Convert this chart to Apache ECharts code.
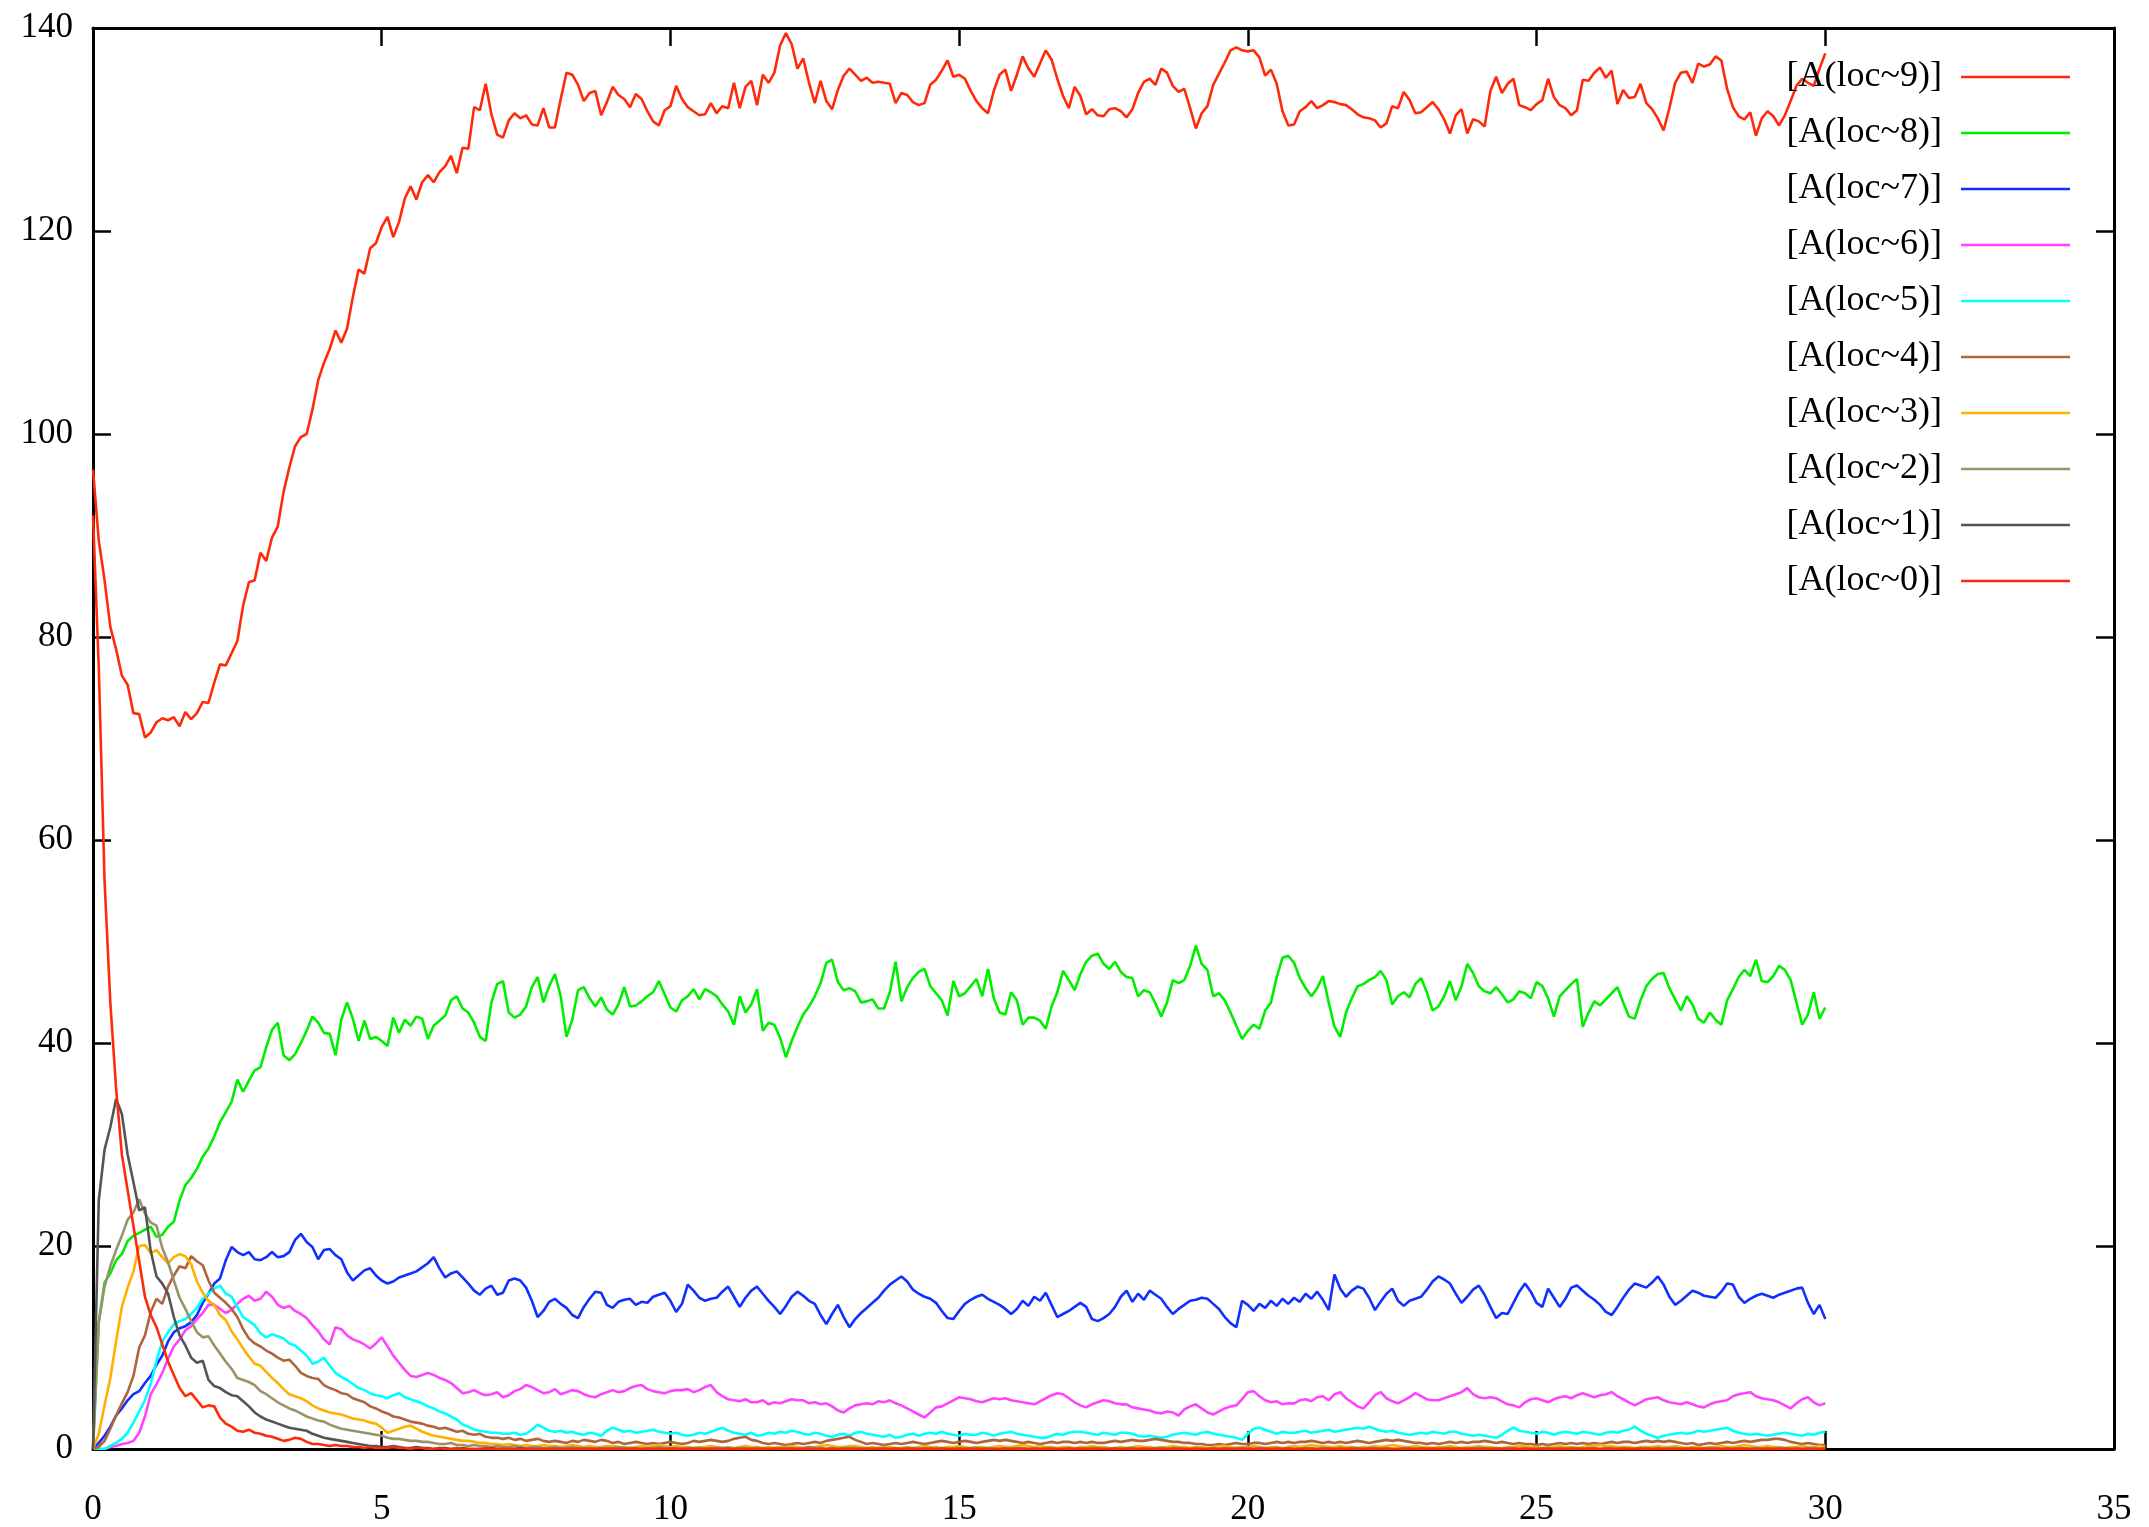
<!DOCTYPE html>
<html>
<head>
<meta charset="utf-8">
<title>A(loc~n) over time</title>
<script src="https://cdn.jsdelivr.net/npm/echarts@6/dist/echarts.min.js"></script>
<style>
  html, body { margin: 0; padding: 0; background: #ffffff; }
  #chart { width: 2149px; height: 1527px; }
</style>
</head>
<body>
<div id="chart"></div>
<script>
// Sample times: 0 .. 30 in steps of 0.1 (301 samples per trajectory)
const STEP = 0.1;
const SAMPLES = 301;

// Axis ticks
const xTicks = [0, 5, 10, 15, 20, 25, 30, 35];
const yTicks = [0, 20, 40, 60, 80, 100, 120, 140];

// Legend labels, in key order
const labels = ['[A(loc~9)]', '[A(loc~8)]', '[A(loc~7)]', '[A(loc~6)]', '[A(loc~5)]',
                '[A(loc~4)]', '[A(loc~3)]', '[A(loc~2)]', '[A(loc~1)]', '[A(loc~0)]'];

// Population of A at location 9
const loc9 = [
  96.5, 89.5, 85.6, 81.0, 78.8, 76.2, 75.3, 72.5, 72.4, 70.1,
  70.6, 71.6, 72.0, 71.8, 72.1, 71.2, 72.6, 71.9, 72.5, 73.6,
  73.5, 75.5, 77.3, 77.2, 78.4, 79.6, 83.1, 85.4, 85.6, 88.3,
  87.5, 89.8, 90.9, 94.3, 96.7, 98.8, 99.7, 100.0, 102.4, 105.3,
  107.0, 108.4, 110.2, 109.0, 110.4, 113.5, 116.2, 115.8, 118.3, 118.8,
  120.4, 121.4, 119.4, 120.9, 123.2, 124.4, 123.1, 124.8, 125.5, 124.8,
  125.8, 126.4, 127.4, 125.7, 128.2, 128.1, 132.2, 131.9, 134.5, 131.5,
  129.5, 129.2, 130.9, 131.6, 131.1, 131.4, 130.5, 130.4, 132.1, 130.2,
  130.2, 133.0, 135.6, 135.4, 134.4, 132.8, 133.6, 133.8, 131.4, 132.7,
  134.2, 133.4, 133.0, 132.2, 133.5, 133.0, 131.8, 130.8, 130.4, 131.9,
  132.3, 134.3, 133.0, 132.2, 131.8, 131.4, 131.5, 132.6, 131.6, 132.3,
  132.1, 134.6, 132.1, 134.2, 134.8, 132.4, 135.4, 134.6, 135.6, 138.3,
  139.5, 138.4, 136.0, 137.0, 134.6, 132.6, 134.8, 132.8, 132.0, 133.9,
  135.3, 136.0, 135.4, 134.8, 135.1, 134.6, 134.7, 134.6, 134.5, 132.6,
  133.6, 133.4, 132.7, 132.4, 132.6, 134.4, 134.9, 135.8, 136.8, 135.2,
  135.4, 135.0, 133.8, 132.8, 132.1, 131.6, 133.8, 135.4, 135.9, 133.8,
  135.4, 137.2, 136.0, 135.2, 136.5, 137.8, 136.9, 135.0, 133.3, 132.1,
  134.2, 133.3, 131.5, 132.0, 131.4, 131.3, 132.0, 132.1, 131.8, 131.2,
  132.0, 133.6, 134.7, 135.0, 134.4, 136.0, 135.6, 134.3, 133.7, 134.0,
  132.1, 130.1, 131.6, 132.3, 134.4, 135.5, 136.6, 137.8, 138.1, 137.8,
  137.7, 137.8, 137.1, 135.3, 135.9, 134.5, 131.8, 130.4, 130.5, 131.8,
  132.2, 132.8, 132.1, 132.4, 132.8, 132.7, 132.5, 132.4, 132.0, 131.5,
  131.2, 131.1, 130.9, 130.2, 130.6, 132.3, 132.1, 133.7, 132.9, 131.6,
  131.7, 132.2, 132.7, 132.0, 131.0, 129.6, 131.4, 132.0, 129.6, 131.0,
  130.8, 130.3, 133.8, 135.2, 133.6, 134.5, 135.0, 132.4, 132.2, 131.9,
  132.5, 132.9, 135.0, 133.2, 132.4, 132.1, 131.4, 131.9, 134.9, 134.8,
  135.6, 136.1, 135.1, 135.8, 132.5, 133.9, 133.1, 133.2, 134.5, 132.6,
  132.0, 131.1, 129.9, 132.1, 134.6, 135.6, 135.7, 134.6, 136.5, 136.2,
  136.4, 137.2, 136.8, 134.0, 132.2, 131.3, 131.0, 131.7, 129.4, 131.1,
  131.8, 131.3, 130.4, 131.4, 132.8, 134.3, 135.0, 134.6, 134.3, 136.0,
  137.5
];

// Population of A at location 8
const loc8 = [
  0, 12.5, 16.4, 17.3, 18.6, 19.2, 20.5, 21.0, 21.3, 21.6,
  21.9, 20.9, 21.1, 21.9, 22.4, 24.5, 26.0, 26.7, 27.6, 28.8,
  29.6, 30.8, 32.2, 33.2, 34.2, 36.4, 35.2, 36.3, 37.3, 37.6,
  39.6, 41.3, 42.0, 38.8, 38.3, 38.9, 40.0, 41.2, 42.6, 42.0,
  41.0, 40.9, 38.8, 42.3, 44.0, 42.4, 40.2, 42.2, 40.4, 40.6,
  40.2, 39.7, 42.5, 41.0, 42.3, 41.7, 42.6, 42.4, 40.4, 41.7,
  42.2, 42.7, 44.2, 44.6, 43.4, 43.0, 42.0, 40.6, 40.2, 44.0,
  45.8, 46.1, 43.0, 42.5, 42.8, 43.6, 45.5, 46.5, 44.0, 45.6,
  46.8, 44.6, 40.6, 42.3, 45.2, 45.5, 44.4, 43.6, 44.5, 43.3,
  42.8, 43.8, 45.5, 43.6, 43.7, 44.1, 44.6, 45.0, 46.1, 44.8,
  43.5, 43.1, 44.2, 44.6, 45.3, 44.3, 45.3, 45.0, 44.6, 43.8,
  43.1, 41.8, 44.6, 43.0, 43.8, 45.3, 41.2, 42.0, 41.8, 40.5,
  38.6, 40.2, 41.6, 42.8, 43.6, 44.6, 45.9, 47.9, 48.2, 46.0,
  45.2, 45.4, 45.1, 44.0, 44.1, 44.3, 43.4, 43.4, 45.0, 48.0,
  44.1, 45.5, 46.4, 47.0, 47.3, 45.6, 44.9, 44.2, 42.7, 46.1,
  44.6, 44.9, 45.6, 46.3, 44.6, 47.3, 44.4, 43.0, 42.8, 45.0,
  44.2, 41.8, 42.5, 42.5, 42.2, 41.4, 43.6, 45.0, 47.1, 46.2,
  45.2, 46.8, 48.0, 48.6, 48.8, 47.8, 47.3, 48.0, 47.0, 46.5,
  46.4, 44.6, 45.2, 45.0, 43.9, 42.6, 44.0, 46.2, 45.9, 46.2,
  47.6, 49.6, 47.8, 47.2, 44.6, 44.9, 44.2, 43.0, 41.7, 40.4,
  41.2, 41.8, 41.4, 43.2, 44.0, 46.5, 48.4, 48.6, 47.9, 46.4,
  45.4, 44.6, 45.4, 46.6, 44.0, 41.6, 40.6, 43.0, 44.4, 45.6,
  45.8, 46.2, 46.5, 47.1, 46.2, 43.8, 44.6, 45.0, 44.5, 45.8,
  46.4, 45.0, 43.2, 43.6, 44.6, 46.1, 44.2, 45.6, 47.8, 46.9,
  45.6, 45.1, 44.9, 45.5, 44.8, 44.0, 44.3, 45.1, 44.9, 44.4,
  46.0, 45.6, 44.4, 42.6, 44.6, 45.2, 45.8, 46.3, 41.6, 43.0,
  44.1, 43.7, 44.3, 44.9, 45.5, 44.0, 42.6, 42.4, 44.2, 45.6,
  46.3, 46.8, 46.9, 45.4, 44.3, 43.2, 44.6, 43.8, 42.4, 42.0,
  43.0, 42.3, 41.8, 44.2, 45.3, 46.5, 47.2, 46.6, 48.2, 46.1,
  46.0, 46.6, 47.6, 47.2, 46.2, 44.0, 41.8, 42.8, 45.0, 42.4,
  43.5
];

// Population of A at location 7
const loc7 = [
  0, 0.6, 1.3, 2.2, 3.3, 4.0, 4.8, 5.4, 5.7, 6.5,
  7.2, 8.3, 9.2, 10.6, 11.5, 11.9, 12.1, 12.5, 13.2, 14.4,
  15.3, 16.3, 16.8, 18.6, 19.9, 19.4, 19.1, 19.4, 18.7, 18.6,
  18.9, 19.4, 18.9, 19.0, 19.4, 20.6, 21.2, 20.4, 19.9, 18.7,
  19.6, 19.7, 19.1, 18.7, 17.4, 16.6, 17.1, 17.6, 17.8, 17.1,
  16.6, 16.3, 16.5, 16.9, 17.1, 17.3, 17.5, 17.9, 18.3, 18.9,
  17.8, 16.9, 17.3, 17.5, 16.9, 16.3, 15.6, 15.2, 15.8, 16.1,
  15.2, 15.4, 16.6, 16.8, 16.6, 15.9, 14.6, 13.0, 13.6, 14.5,
  14.8, 14.3, 13.9, 13.2, 12.9, 14.0, 14.8, 15.5, 15.4, 14.2,
  13.9, 14.5, 14.7, 14.8, 14.2, 14.5, 14.4, 15.0, 15.2, 15.4,
  14.6, 13.5, 14.3, 16.2, 15.6, 14.9, 14.6, 14.8, 14.9, 15.5,
  16.0, 15.0, 14.0, 14.9, 15.6, 16.0, 15.3, 14.6, 14.0, 13.3,
  14.1, 15.0, 15.5, 15.1, 14.6, 14.3, 13.2, 12.3, 13.3, 14.2,
  13.0, 12.0, 12.8, 13.4, 13.9, 14.4, 14.9, 15.6, 16.2, 16.6,
  17.0, 16.5, 15.7, 15.3, 15.0, 14.8, 14.4, 13.6, 12.9, 12.8,
  13.6, 14.3, 14.7, 15.0, 15.2, 14.8, 14.5, 14.2, 13.8, 13.3,
  13.8, 14.6, 14.1, 15.0, 14.6, 15.4, 14.2, 13.0, 13.3, 13.6,
  14.0, 14.4, 14.0, 12.8, 12.6, 12.9, 13.3, 14.0, 15.0, 15.6,
  14.5, 15.3, 14.7, 15.6, 15.2, 14.8, 14.0, 13.3, 13.8, 14.2,
  14.6, 14.7, 14.9, 14.8, 14.3, 13.8, 13.0, 12.4, 12.0, 14.6,
  14.2, 13.6, 14.3, 13.9, 14.6, 14.1, 14.8, 14.3, 14.9, 14.5,
  15.3, 14.8, 15.5, 14.7, 13.7, 17.2, 15.8, 15.0, 15.6, 16.0,
  15.8, 14.9, 13.7, 14.5, 15.3, 15.8, 14.6, 14.1, 14.6, 14.8,
  15.0, 15.7, 16.5, 17.0, 16.7, 16.3, 15.3, 14.4, 15.0, 15.7,
  16.1, 15.2, 14.0, 12.9, 13.4, 13.3, 14.4, 15.5, 16.3, 15.5,
  14.4, 14.0, 15.8, 14.9, 14.0, 14.8, 15.9, 16.1, 15.6, 15.1,
  14.7, 14.2, 13.5, 13.2, 14.0, 14.9, 15.7, 16.3, 16.1, 15.9,
  16.4, 17.0, 16.2, 15.0, 14.2, 14.6, 15.1, 15.6, 15.4, 15.1,
  15.0, 14.9, 15.5, 16.3, 16.2, 15.0, 14.4, 14.8, 15.1, 15.3,
  15.1, 14.9, 15.2, 15.4, 15.6, 15.8, 15.9, 14.4, 13.3, 14.2,
  12.8
];

// Population of A at location 6
const loc6 = [
  0, 0, 0, 0.2, 0.3, 0.5, 0.6, 0.8, 1.6, 3.2,
  5.4, 6.4, 7.5, 8.9, 10.1, 10.8, 11.7, 12.1, 12.8, 13.4,
  14.2, 14.2, 13.8, 13.4, 13.7, 14.3, 14.8, 15.1, 14.6, 14.8,
  15.5, 15.0, 14.2, 13.9, 14.1, 13.6, 13.3, 12.9, 12.2, 11.6,
  10.8, 10.3, 12.0, 11.8, 11.2, 10.8, 10.6, 10.3, 9.9, 10.4,
  11.0, 10.1, 9.2, 8.5, 7.8, 7.2, 7.1, 7.3, 7.5, 7.3,
  7.0, 6.8, 6.5, 6.0, 5.5, 5.6, 5.8, 5.5, 5.3, 5.4,
  5.6, 5.1, 5.3, 5.7, 5.9, 6.3, 6.1, 5.8, 5.5, 5.6,
  5.9, 5.4, 5.6, 5.8, 5.7, 5.4, 5.2, 5.1, 5.4, 5.6,
  5.8, 5.6, 5.7, 6.0, 6.2, 6.3, 5.9, 5.7, 5.6, 5.5,
  5.7, 5.8, 5.8, 5.9, 5.6, 5.8, 6.1, 6.3, 5.6, 5.2,
  4.9, 4.8, 4.7, 4.9, 4.6, 4.6, 4.8, 4.4, 4.6, 4.5,
  4.7, 4.9, 4.8, 4.8, 4.5, 4.6, 4.4, 4.5, 4.2, 3.8,
  3.6, 4.0, 4.3, 4.4, 4.5, 4.4, 4.7, 4.6, 4.8, 4.5,
  4.3, 4.0, 3.7, 3.4, 3.1, 3.6, 4.1, 4.2, 4.5, 4.8,
  5.1, 5.0, 4.9, 4.7, 4.6, 4.8, 5.0, 4.9, 5.0, 4.8,
  4.7, 4.6, 4.5, 4.4, 4.7, 5.0, 5.3, 5.5, 5.4, 5.0,
  4.6, 4.3, 4.1, 4.4, 4.6, 4.8, 4.7, 4.5, 4.4, 4.4,
  4.1, 4.0, 3.9, 3.8, 3.6, 3.5, 3.7, 3.6, 3.3, 3.9,
  4.2, 4.4, 4.0, 3.6, 3.4, 3.7, 4.0, 4.2, 4.3, 4.9,
  5.6, 5.7, 5.2, 4.8, 4.6, 4.7, 4.4, 4.5, 4.5, 4.8,
  4.9, 4.7, 5.1, 5.2, 4.8, 5.4, 5.6, 5.0, 4.6, 4.2,
  4.0, 4.6, 5.3, 5.6, 5.0, 4.7, 4.5, 4.8, 5.1, 5.5,
  5.2, 4.9, 4.8, 4.8, 5.0, 5.2, 5.4, 5.6, 6.0, 5.4,
  5.1, 5.0, 5.1, 5.0, 4.7, 4.4, 4.3, 4.1, 4.6, 4.9,
  5.0, 4.8, 4.6, 4.9, 5.1, 5.2, 5.0, 5.3, 5.5, 5.3,
  5.1, 5.3, 5.4, 5.6, 5.2, 4.9, 4.6, 4.3, 4.6, 4.9,
  5.0, 5.1, 4.8, 4.6, 4.5, 4.4, 4.6, 4.4, 4.2, 4.1,
  4.4, 4.6, 4.7, 4.8, 5.2, 5.4, 5.5, 5.6, 5.2, 5.0,
  4.9, 4.8, 4.6, 4.3, 4.0, 4.5, 4.9, 5.1, 4.6, 4.3,
  4.5
];

// Population of A at location 5
const loc5 = [
  0, 0, 0, 0.3, 0.6, 1.0, 1.6, 2.6, 3.7, 4.8,
  6.4, 8.7, 10.6, 11.5, 12.3, 12.6, 12.8, 13.3, 13.9, 14.8,
  15.3, 15.8, 16.1, 15.3, 15.0, 14.0, 13.0, 12.6, 12.2, 11.4,
  11.0, 11.3, 11.1, 10.9, 10.4, 10.2, 9.7, 9.2, 8.4, 8.6,
  9.0, 8.2, 7.5, 7.1, 6.8, 6.4, 6.0, 5.8, 5.5, 5.3,
  5.2, 5.0, 5.3, 5.5, 5.1, 4.9, 4.7, 4.5, 4.2, 4.0,
  3.7, 3.5, 3.2, 2.9, 2.4, 2.2, 1.9, 1.8, 1.7, 1.6,
  1.6, 1.5, 1.5, 1.6, 1.4, 1.5, 1.9, 2.4, 2.1, 1.8,
  1.7, 1.8, 1.6, 1.7, 1.5, 1.4, 1.6, 1.5, 1.3, 1.8,
  2.1, 1.9, 1.7, 1.8, 1.6, 1.7, 1.8, 1.9, 1.7, 1.6,
  1.5, 1.6, 1.4, 1.3, 1.4, 1.6, 1.5, 1.7, 1.9, 2.1,
  1.8, 1.6, 1.5, 1.4, 1.6, 1.3, 1.4, 1.6, 1.5, 1.7,
  1.6, 1.8, 1.7, 1.5, 1.4, 1.6, 1.5, 1.3, 1.2, 1.4,
  1.5, 1.3, 1.6, 1.7, 1.5, 1.4, 1.3, 1.2, 1.4, 1.1,
  1.2, 1.4, 1.5, 1.3, 1.5, 1.6, 1.5, 1.7, 1.5, 1.4,
  1.3, 1.5, 1.4, 1.4, 1.6, 1.5, 1.3, 1.5, 1.6, 1.7,
  1.5, 1.4, 1.3, 1.2, 1.1, 1.1, 1.3, 1.5, 1.4, 1.6,
  1.7, 1.7, 1.6, 1.5, 1.4, 1.6, 1.5, 1.4, 1.6, 1.6,
  1.5, 1.3, 1.2, 1.3, 1.2, 1.1, 1.2, 1.4, 1.5, 1.6,
  1.5, 1.4, 1.6, 1.7, 1.5, 1.4, 1.3, 1.2, 1.1, 0.9,
  1.5, 2.0, 2.1, 1.9, 1.7, 1.5, 1.7, 1.6, 1.6, 1.7,
  1.8, 1.6, 1.7, 1.8, 1.9, 1.7, 1.8, 1.9, 2.0, 2.1,
  2.0, 2.2, 2.0, 1.8, 1.7, 1.8, 1.6, 1.5, 1.4, 1.5,
  1.6, 1.5, 1.7, 1.6, 1.5, 1.7, 1.7, 1.5, 1.4, 1.3,
  1.4, 1.3, 1.2, 1.1, 1.4, 1.8, 2.1, 1.8, 1.7, 1.6,
  1.5, 1.7, 1.6, 1.4, 1.6, 1.7, 1.6, 1.5, 1.7, 1.6,
  1.5, 1.4, 1.6, 1.7, 1.6, 1.8, 1.9, 2.2, 1.8, 1.5,
  1.3, 1.1, 1.3, 1.4, 1.5, 1.6, 1.5, 1.6, 1.8, 1.7,
  1.8, 1.9, 2.0, 2.1, 1.8, 1.6, 1.5, 1.4, 1.5, 1.4,
  1.3, 1.4, 1.5, 1.6, 1.5, 1.4, 1.3, 1.5, 1.4, 1.6,
  1.7
];

// Population of A at location 4
const loc4 = [
  0, 0.2, 0.8, 2.0, 3.3, 4.5, 5.6, 7.2, 10.0, 11.2,
  13.5, 14.8, 14.3, 16.0, 17.1, 18.0, 17.8, 19.0, 18.5, 18.1,
  16.6, 15.4, 14.9, 14.4, 13.8, 13.0, 11.8, 10.9, 10.4, 10.1,
  9.7, 9.4, 9.0, 8.7, 8.8, 8.2, 7.5, 7.2, 7.0, 6.9,
  6.3, 6.0, 5.8, 5.5, 5.4, 5.0, 4.8, 4.6, 4.2, 4.0,
  3.7, 3.5, 3.2, 3.1, 2.9, 2.7, 2.6, 2.5, 2.3, 2.2,
  2.0, 2.1, 1.9, 1.7, 1.8, 1.5, 1.4, 1.5, 1.2, 1.1,
  1.1, 1.0, 1.1, 0.9, 1.0, 0.8, 0.9, 1.0, 0.8, 0.7,
  0.8, 0.7, 0.6, 0.8, 0.7, 0.9, 0.8, 0.7, 0.9, 0.8,
  0.6, 0.7, 0.5, 0.6, 0.7, 0.6, 0.5, 0.6, 0.5, 0.6,
  0.7, 0.6, 0.5, 0.6, 0.8, 0.7, 0.8, 0.9, 0.8, 0.7,
  0.8, 1.0, 1.1, 1.2, 0.9, 0.8, 0.6, 0.5, 0.6, 0.5,
  0.4, 0.5, 0.6, 0.5, 0.6, 0.7, 0.6, 0.8, 0.9, 1.0,
  1.1, 1.2, 0.9, 0.7, 0.5, 0.6, 0.5, 0.4, 0.5, 0.6,
  0.5, 0.6, 0.7, 0.6, 0.5, 0.6, 0.7, 0.8, 0.7, 0.6,
  0.7, 0.8, 0.7, 0.6, 0.7, 0.8, 0.9, 0.8, 0.9, 0.8,
  0.7, 0.6, 0.7, 0.6, 0.5, 0.6, 0.7, 0.6, 0.7, 0.7,
  0.6, 0.7, 0.6, 0.7, 0.6, 0.6, 0.7, 0.8, 0.7, 0.8,
  0.9, 0.8, 0.8, 0.9, 1.0, 0.9, 0.8, 0.7, 0.7, 0.6,
  0.6, 0.5, 0.5, 0.4, 0.4, 0.5, 0.4, 0.5, 0.6, 0.5,
  0.5, 0.6, 0.6, 0.5, 0.6, 0.7, 0.6, 0.7, 0.6, 0.7,
  0.7, 0.8, 0.7, 0.6, 0.7, 0.6, 0.7, 0.6, 0.7, 0.8,
  0.7, 0.6, 0.7, 0.8, 0.9, 0.8, 0.9, 0.8, 0.7, 0.6,
  0.6, 0.5, 0.6, 0.5, 0.6, 0.7, 0.6, 0.7, 0.6, 0.7,
  0.7, 0.8, 0.7, 0.6, 0.7, 0.6, 0.5, 0.6, 0.5, 0.5,
  0.4, 0.5, 0.4, 0.5, 0.6, 0.5, 0.6, 0.5, 0.6, 0.5,
  0.6, 0.5, 0.6, 0.7, 0.6, 0.7, 0.7, 0.6, 0.7, 0.8,
  0.7, 0.8, 0.7, 0.8, 0.7, 0.6, 0.5, 0.6, 0.4, 0.5,
  0.6, 0.5, 0.6, 0.7, 0.6, 0.7, 0.8, 0.7, 0.8, 0.9,
  0.9, 1.0, 1.0, 0.9, 0.7, 0.6, 0.5, 0.6, 0.5, 0.4,
  0.4
];

// Population of A at location 3
const loc3 = [
  0, 1.5, 4.3, 7.0, 10.6, 14.0, 15.9, 17.5, 20.0, 20.1,
  19.3, 19.6, 18.9, 18.3, 18.9, 19.2, 19.0, 18.2, 16.5, 15.4,
  14.6, 14.2, 13.2, 12.7, 11.6, 10.8, 9.9, 9.1, 8.4, 8.2,
  7.6, 7.0, 6.5, 5.9, 5.4, 5.2, 5.0, 4.7, 4.3, 4.0,
  3.8, 3.6, 3.5, 3.4, 3.2, 3.0, 2.9, 2.8, 2.6, 2.5,
  2.1, 1.6, 1.8, 2.0, 2.2, 2.3, 2.0, 1.7, 1.5, 1.3,
  1.2, 1.1, 1.0, 0.9, 0.8, 0.8, 0.7, 0.6, 0.6, 0.5,
  0.5, 0.4, 0.5, 0.4, 0.3, 0.4, 0.3, 0.3, 0.4, 0.3,
  0.3, 0.2, 0.3, 0.4, 0.3, 0.2, 0.3, 0.2, 0.2, 0.3,
  0.3, 0.2, 0.2, 0.1, 0.2, 0.3, 0.2, 0.3, 0.4, 0.3,
  0.2, 0.3, 0.2, 0.2, 0.1, 0.2, 0.2, 0.3, 0.2, 0.1,
  0.2, 0.1, 0.2, 0.3, 0.2, 0.2, 0.1, 0.2, 0.1, 0.2,
  0.2, 0.3, 0.2, 0.1, 0.2, 0.2, 0.3, 0.4, 0.3, 0.2,
  0.2, 0.3, 0.3, 0.2, 0.1, 0.2, 0.1, 0.2, 0.2, 0.1,
  0.1, 0.2, 0.1, 0.2, 0.3, 0.2, 0.2, 0.1, 0.2, 0.2,
  0.3, 0.2, 0.1, 0.2, 0.2, 0.1, 0.2, 0.3, 0.2, 0.2,
  0.3, 0.4, 0.3, 0.2, 0.3, 0.2, 0.2, 0.1, 0.2, 0.2,
  0.1, 0.2, 0.2, 0.3, 0.2, 0.2, 0.1, 0.1, 0.2, 0.1,
  0.2, 0.3, 0.2, 0.2, 0.1, 0.2, 0.2, 0.3, 0.2, 0.2,
  0.1, 0.2, 0.2, 0.1, 0.2, 0.3, 0.3, 0.2, 0.1, 0.2,
  0.2, 0.3, 0.2, 0.1, 0.2, 0.2, 0.1, 0.2, 0.3, 0.2,
  0.3, 0.4, 0.3, 0.3, 0.2, 0.2, 0.3, 0.2, 0.2, 0.1,
  0.2, 0.2, 0.3, 0.2, 0.3, 0.4, 0.3, 0.2, 0.2, 0.3,
  0.2, 0.2, 0.1, 0.2, 0.2, 0.3, 0.2, 0.1, 0.2, 0.2,
  0.3, 0.2, 0.2, 0.1, 0.1, 0.2, 0.2, 0.3, 0.3, 0.2,
  0.2, 0.1, 0.2, 0.2, 0.3, 0.2, 0.2, 0.1, 0.2, 0.3,
  0.3, 0.4, 0.3, 0.3, 0.2, 0.2, 0.2, 0.1, 0.2, 0.2,
  0.2, 0.3, 0.2, 0.2, 0.3, 0.2, 0.1, 0.2, 0.2, 0.1,
  0.2, 0.2, 0.3, 0.2, 0.2, 0.3, 0.4, 0.3, 0.2, 0.2,
  0.3, 0.2, 0.2, 0.1, 0.2, 0.2, 0.3, 0.2, 0.2, 0.3,
  0.2
];

// Population of A at location 2
const loc2 = [
  0, 12.5, 16.0, 18.0, 19.6, 21.0, 22.6, 23.3, 24.6, 23.2,
  22.3, 22.0, 19.8, 18.4, 16.6, 14.9, 13.8, 12.6, 11.5, 11.0,
  11.1, 10.2, 9.4, 8.6, 7.9, 7.0, 6.8, 6.6, 6.3, 5.7,
  5.4, 5.0, 4.6, 4.3, 4.0, 3.8, 3.5, 3.2, 3.0, 2.8,
  2.7, 2.4, 2.2, 2.0, 1.9, 1.8, 1.7, 1.6, 1.5, 1.4,
  1.3, 1.1, 1.0, 1.0, 0.9, 0.8, 0.8, 0.7, 0.7, 0.6,
  0.5, 0.5, 0.6, 0.4, 0.4, 0.3, 0.4, 0.3, 0.3, 0.2,
  0.3, 0.2, 0.2, 0.3, 0.2, 0.1, 0.2, 0.2, 0.1, 0.1,
  0.2, 0.1, 0.1, 0.2, 0.1, 0.1, 0.1, 0, 0.1, 0.1,
  0.1, 0.2, 0.1, 0.1, 0.1, 0, 0.1, 0.1, 0.2, 0.1,
  0.1, 0.1, 0, 0.1, 0.1, 0.1, 0, 0.1, 0.1, 0.1,
  0.1, 0, 0.1, 0.1, 0, 0.1, 0.1, 0, 0.1, 0.1,
  0.1, 0.1, 0, 0.1, 0.2, 0.1, 0.1, 0, 0.1, 0,
  0.1, 0.1, 0.1, 0, 0.1, 0, 0.1, 0.1, 0, 0.1,
  0, 0.1, 0.1, 0, 0.1, 0.1, 0, 0.1, 0, 0,
  0.1, 0, 0.1, 0.1, 0, 0.1, 0, 0, 0.1, 0,
  0.1, 0.1, 0, 0.1, 0, 0.1, 0.1, 0, 0, 0.1,
  0, 0.1, 0, 0.1, 0.1, 0, 0, 0.1, 0, 0.1,
  0.1, 0, 0.1, 0, 0.1, 0.1, 0, 0.1, 0.1, 0,
  0, 0.1, 0, 0, 0.1, 0, 0.1, 0, 0.1, 0.1,
  0.1, 0, 0.1, 0.1, 0, 0.1, 0, 0.1, 0, 0,
  0.1, 0.1, 0, 0.1, 0.1, 0, 0.1, 0, 0.1, 0.1,
  0, 0.1, 0.1, 0, 0.1, 0, 0, 0.1, 0.1, 0,
  0.1, 0, 0.1, 0, 0.1, 0.1, 0, 0.1, 0, 0.1,
  0.1, 0.1, 0, 0.1, 0, 0.1, 0.1, 0, 0.1, 0,
  0, 0.1, 0.1, 0, 0.1, 0, 0.1, 0.1, 0, 0.1,
  0.1, 0, 0.1, 0.1, 0, 0.1, 0, 0, 0.1, 0.1,
  0, 0.1, 0, 0.1, 0.1, 0, 0.1, 0.1, 0, 0.1,
  0.1, 0.1, 0, 0.1, 0, 0.1, 0.1, 0, 0.1, 0,
  0.1, 0, 0.1, 0.1, 0, 0.1, 0, 0.1, 0.1, 0,
  0.1
];

// Population of A at location 1
const loc1 = [
  0, 24.5, 29.5, 31.7, 34.5, 33.0, 29.0, 26.3, 23.5, 23.8,
  19.5, 17.0, 16.3, 15.3, 13.0, 11.2, 10.2, 9.0, 8.5, 8.7,
  6.8, 6.2, 6.0, 5.6, 5.3, 5.2, 4.7, 4.2, 3.6, 3.2,
  2.9, 2.7, 2.5, 2.3, 2.1, 2.0, 1.9, 1.8, 1.5, 1.3,
  1.1, 1.0, 0.9, 0.8, 0.7, 0.6, 0.5, 0.4, 0.3, 0.3,
  0.2, 0.2, 0.3, 0.2, 0.1, 0.1, 0.2, 0.1, 0.1, 0,
  0.1, 0.1, 0, 0, 0.1, 0, 0, 0, 0, 0.1,
  0, 0, 0, 0, 0.1, 0, 0, 0, 0, 0,
  0, 0, 0, 0, 0, 0, 0, 0, 0, 0,
  0, 0, 0, 0, 0, 0, 0, 0, 0, 0,
  0, 0, 0, 0, 0, 0, 0, 0, 0, 0,
  0, 0, 0, 0, 0, 0, 0, 0, 0, 0,
  0, 0, 0, 0, 0, 0, 0, 0, 0, 0,
  0, 0, 0, 0, 0, 0, 0, 0, 0, 0,
  0, 0, 0, 0, 0, 0, 0, 0, 0, 0,
  0, 0, 0, 0, 0, 0, 0, 0, 0, 0,
  0, 0, 0, 0, 0, 0, 0, 0, 0, 0,
  0, 0, 0, 0, 0, 0, 0, 0, 0, 0,
  0, 0, 0, 0, 0, 0, 0, 0, 0, 0,
  0, 0, 0, 0, 0, 0, 0, 0, 0, 0,
  0, 0, 0, 0, 0, 0, 0, 0, 0, 0,
  0, 0, 0, 0, 0, 0, 0, 0, 0, 0,
  0, 0, 0, 0, 0, 0, 0, 0, 0, 0,
  0, 0, 0, 0, 0, 0, 0, 0, 0, 0,
  0, 0, 0, 0, 0, 0, 0, 0, 0, 0,
  0, 0, 0, 0, 0, 0, 0, 0, 0, 0,
  0, 0, 0, 0, 0, 0, 0, 0, 0, 0,
  0, 0, 0, 0, 0, 0, 0, 0, 0, 0,
  0, 0, 0, 0, 0, 0, 0, 0, 0, 0,
  0, 0, 0, 0, 0, 0, 0, 0, 0, 0,
  0
];

// Population of A at location 0
const loc0 = [
  92.0, 77.0, 56.0, 44.0, 35.5, 29.0, 25.5, 22.0, 18.5, 15.0,
  13.2, 12.0, 10.3, 8.6, 7.3, 6.0, 5.2, 5.5, 4.8, 4.1,
  4.3, 4.2, 3.1, 2.5, 2.2, 1.8, 1.7, 1.9, 1.6, 1.5,
  1.3, 1.2, 1.0, 0.8, 0.9, 1.1, 1.0, 0.7, 0.5, 0.5,
  0.4, 0.3, 0.4, 0.3, 0.3, 0.2, 0.2, 0.1, 0.2, 0.1,
  0.1, 0.1, 0.2, 0.1, 0.1, 0, 0.1, 0.1, 0, 0,
  0.1, 0, 0, 0.1, 0, 0, 0, 0, 0.1, 0,
  0, 0, 0, 0, 0, 0, 0, 0, 0, 0,
  0, 0, 0, 0, 0, 0, 0, 0, 0, 0,
  0, 0, 0, 0, 0, 0, 0, 0, 0, 0,
  0, 0, 0, 0, 0, 0, 0, 0, 0, 0,
  0, 0, 0, 0, 0, 0, 0, 0, 0, 0,
  0, 0, 0, 0, 0, 0, 0, 0, 0, 0,
  0, 0, 0, 0, 0, 0, 0, 0, 0, 0,
  0, 0, 0, 0, 0, 0, 0, 0, 0, 0,
  0, 0, 0, 0, 0, 0, 0, 0, 0, 0,
  0, 0, 0, 0, 0, 0, 0, 0, 0, 0,
  0, 0, 0, 0, 0, 0, 0, 0, 0, 0,
  0, 0, 0, 0, 0, 0, 0, 0, 0, 0,
  0, 0, 0, 0, 0, 0, 0, 0, 0, 0,
  0, 0, 0, 0, 0, 0, 0, 0, 0, 0,
  0, 0, 0, 0, 0, 0, 0, 0, 0, 0,
  0, 0, 0, 0, 0, 0, 0, 0, 0, 0,
  0, 0, 0, 0, 0, 0, 0, 0, 0, 0,
  0, 0, 0, 0, 0, 0, 0, 0, 0, 0,
  0, 0, 0, 0, 0, 0, 0, 0, 0, 0,
  0, 0, 0, 0, 0, 0, 0, 0, 0, 0,
  0, 0, 0, 0, 0, 0, 0, 0, 0, 0,
  0, 0, 0, 0, 0, 0, 0, 0, 0, 0,
  0, 0, 0, 0, 0, 0, 0, 0, 0, 0,
  0
];

const seriesValues = [loc9, loc8, loc7, loc6, loc5, loc4, loc3, loc2, loc1, loc0];
const colors = ['#ff2a0a', '#00ee00', '#1030ff', '#ff44ff', '#00ffff',
                '#b0643c', '#ffb000', '#9a926a', '#555555', '#ff2a0a'];

const times = Array.from({ length: SAMPLES }, (_, i) => +(i * STEP).toFixed(1));

const FONT = "'Liberation Serif', 'Times New Roman', serif";
const BLACK = '#000000';

function axisBase(extra) {
  return Object.assign({
    type: 'value',
    axisLine: { show: true, onZero: false, lineStyle: { color: BLACK, width: 3 } },
    axisTick: { show: true, inside: true, length: 18, lineStyle: { color: BLACK, width: 2.5 } },
    splitLine: { show: false }
  }, extra);
}

const chart = echarts.init(document.getElementById('chart'), null, { renderer: 'canvas' });

chart.setOption({
  animation: false,
  backgroundColor: '#ffffff',
  grid: { left: 93, right: 35, top: 28, bottom: 72, containLabel: false },
  xAxis: [
    axisBase({
      position: 'bottom', min: xTicks[0], max: xTicks[xTicks.length - 1], interval: 5,
      axisLabel: { show: true, color: BLACK, fontFamily: FONT, fontSize: 35, margin: 43,
                   showMinLabel: true, showMaxLabel: true }
    }),
    axisBase({
      position: 'top', min: xTicks[0], max: xTicks[xTicks.length - 1], interval: 5,
      axisLabel: { show: false }
    })
  ],
  yAxis: [
    axisBase({
      position: 'left', min: yTicks[0], max: yTicks[yTicks.length - 1], interval: 20,
      axisLabel: { show: true, color: BLACK, fontFamily: FONT, fontSize: 35, margin: 20,
                   showMinLabel: true, showMaxLabel: true }
    }),
    axisBase({
      position: 'right', min: yTicks[0], max: yTicks[yTicks.length - 1], interval: 20,
      axisLabel: { show: false }
    })
  ],
  legend: {
    show: true,
    orient: 'vertical',
    right: 79,
    top: 59,
    padding: 0,
    align: 'right',
    icon: 'rect',
    itemWidth: 109,
    itemHeight: 2.5,
    itemGap: 20,
    textStyle: { color: BLACK, fontFamily: FONT, fontSize: 36, lineHeight: 36, padding: [0, 14, 0, 0] },
    data: labels
  },
  series: seriesValues.map((vals, k) => ({
    name: labels[k],
    type: 'line',
    xAxisIndex: 0,
    yAxisIndex: 0,
    showSymbol: false,
    symbol: 'none',
    smooth: false,
    color: colors[k],
    lineStyle: { color: colors[k], width: 2.6 },
    emphasis: { disabled: true },
    data: times.map((t, i) => [t, vals[i]])
  }))
});
</script>
</body>
</html>
